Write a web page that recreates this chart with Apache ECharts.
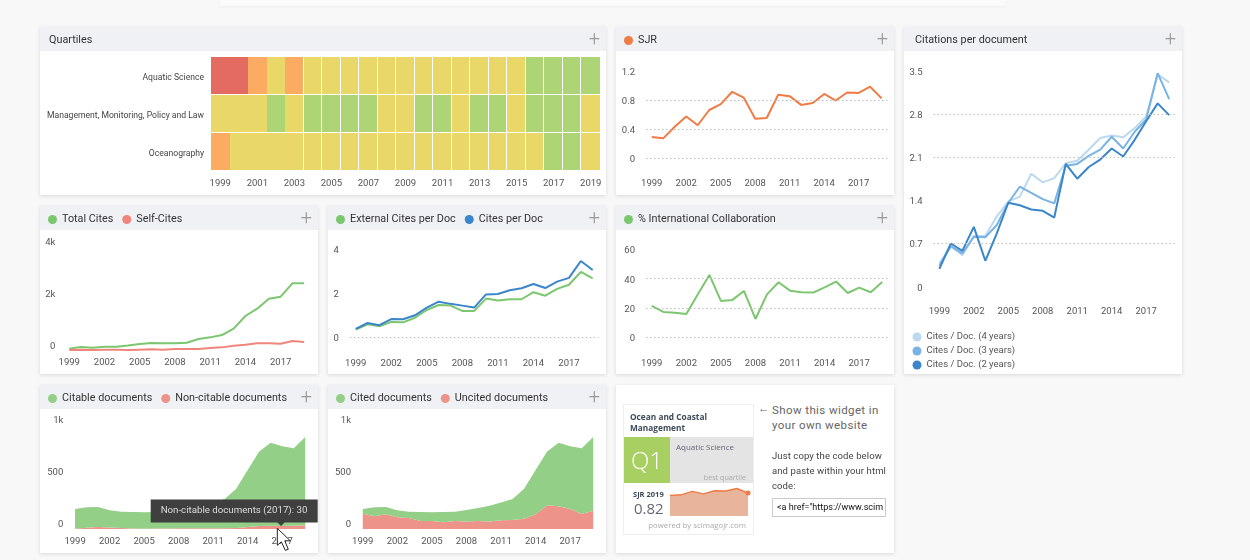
<!DOCTYPE html>
<html>
<head>
<meta charset="utf-8">
<title>Ocean and Coastal Management</title>
<script src="https://cdn.jsdelivr.net/npm/echarts@6/dist/echarts.min.js"></script>
<style>
html, body { margin: 0; padding: 0; background: #f8f8f8; width: 1250px; height: 560px; overflow: hidden; font-family: Roboto, sans-serif; }
.topbar { position: absolute; left: 220px; top: 0; width: 785px; height: 6px; background: #fbfbfb; box-shadow: 0 1px 3px rgba(0,0,0,.05); }
.card { position: absolute; background: #fff; box-shadow: 0 1px 4px rgba(0,0,0,.13); }
.card .head { position: absolute; left: 0; right: 0; top: 0; height: 24px; background: #f0f1f5; }
.card .plus { position: absolute; right: 6px; top: -1px; font-size: 20px; line-height: 24px; font-weight: 300; color: #999; z-index: 3; }
.card .chart { position: absolute; left: 0; top: 0; right: 0; bottom: 0; }
.w { position: absolute; white-space: nowrap; }
#widget { position: absolute; left: 7px; top: 19px; width: 129px; height: 129px; border: 1px solid #eee; background: #fff; font-family: "Open Sans", sans-serif; }
#spark { position: absolute; left: 0; top: 0; width: 129px; height: 129px; }
.code { left: 156px; top: 113px; width: 108px; height: 17px; border: 1px solid #ccc; background: #fff; font-size: 9px; line-height: 17px; padding-left: 4px; color: #111; overflow: hidden; }
</style>
</head>
<body>
<div class="topbar"></div>
<script>
const years = ['1999', '2000', '2001', '2002', '2003', '2004', '2005', '2006', '2007', '2008', '2009', '2010', '2011', '2012', '2013', '2014', '2015', '2016', '2017', '2018', '2019']

const subjects = ['Aquatic Science', 'Management, Monitoring, Policy and Law', 'Oceanography']
const quartAquatic = [4, 4, 3, 2, 3, 2, 2, 2, 2, 2, 2, 2, 2, 2, 2, 2, 2, 1, 1, 1, 1]
const quartManagement = [2, 2, 2, 1, 2, 1, 1, 1, 1, 2, 2, 1, 1, 2, 1, 1, 2, 1, 1, 1, 2]
const quartOcean = [3, 2, 2, 2, 2, 2, 2, 2, 2, 2, 2, 2, 2, 2, 2, 2, 2, 2, 1, 1, 2]

const sjr = [0.29, 0.27, 0.43, 0.57, 0.45, 0.66, 0.74, 0.91, 0.83, 0.54, 0.55, 0.87, 0.85, 0.73, 0.755, 0.88, 0.79, 0.9, 0.895, 0.98, 0.82]

const citesDoc4 = [0.38, 0.65, 0.51, 0.82, 0.82, 1.14, 1.38, 1.46, 1.83, 1.69, 1.76, 2.0, 2.04, 2.22, 2.41, 2.45, 2.42, 2.57, 2.76, 3.44, 3.31]
const citesDoc3 = [0.34, 0.66, 0.54, 0.81, 0.8, 1.0, 1.36, 1.62, 1.52, 1.42, 1.35, 1.96, 1.99, 2.12, 2.22, 2.43, 2.24, 2.51, 2.71, 3.46, 3.04]
const citesDoc2 = [0.29, 0.7, 0.58, 0.97, 0.42, 0.865, 1.36, 1.32, 1.25, 1.23, 1.12, 1.99, 1.75, 1.94, 2.06, 2.24, 2.11, 2.38, 2.68, 2.97, 2.78]

const totalCites = [80, 140, 115, 155, 155, 205, 258, 297, 284, 284, 310, 452, 516, 606, 852, 1342, 1626, 2013, 2090, 2606, 2606]
const selfCites = [26, 39, 26, 39, 39, 26, 39, 52, 39, 65, 65, 65, 103, 129, 194, 232, 284, 284, 271, 374, 335]

const externalPerDoc = [0.35, 0.59, 0.5, 0.7, 0.68, 0.89, 1.24, 1.47, 1.44, 1.2, 1.2, 1.76, 1.67, 1.73, 1.73, 2.05, 1.89, 2.2, 2.39, 2.97, 2.68]
const citesPerDoc = [0.38, 0.65, 0.55, 0.83, 0.82, 1.0, 1.35, 1.62, 1.52, 1.44, 1.35, 1.95, 1.97, 2.14, 2.23, 2.42, 2.24, 2.53, 2.7, 3.47, 3.06]

const intlCollab = [21.4, 17.3, 16.8, 15.9, 29.3, 42.5, 24.8, 25.5, 31.6, 12.5, 29.3, 37.5, 31.8, 30.7, 30.5, 34, 38, 30.2, 33.9, 30.7, 37.7]

const citableDocs = [189, 196, 192, 165, 157, 157, 157, 159, 161, 175, 194, 216, 249, 281, 378, 547, 714, 798, 765, 744, 849]
const nonCitableDocs = [3, 12, 20, 15, 10, 6, 3, 4, 6, 8, 8, 8, 7, 7, 10, 20, 30, 32, 30, 32, 36]
const citedDocs = [45, 86, 71, 68, 61, 86, 83, 99, 90, 112, 125, 153, 173, 201, 289, 426, 516, 612, 603, 632, 709]
const uncitedDocs = [147, 122, 141, 112, 106, 77, 77, 64, 77, 71, 77, 71, 83, 87, 99, 141, 228, 218, 192, 144, 176]

const GREEN = '#7cc66f'
const BLUE = '#3b86cb'
const ORANGE = '#ef7b45'
const SALMON = '#f0857b'
const quartColors = { 1: '#aed575', 2: '#e9d868', 3: '#fcab62', 4: '#e46b61' }

function makeCard(x, y, w, h) {
  const card = document.createElement('div')
  card.className = 'card'
  card.style.cssText = `left:${x}px;top:${y}px;width:${w}px;height:${h}px`
  card.innerHTML = '<div class="head"></div><div class="plus">+</div><div class="chart"></div>'
  document.body.appendChild(card)
  return { x, y, el: card, chart: echarts.init(card.querySelector('.chart')) }
}

// grid given in page pixels, turned into card pixels
function gridAt(card, left, right, top, bottom) {
  return { left: left - card.x, top: top - card.y, width: right - left, height: bottom - top, outerBoundsMode: 'none' }
}

function tickText(v) {
  if (v >= 1000) return v / 1000 + 'k'
  return String(Math.round(v * 10) / 10)
}

function lineSeries(name, data, color, dots) {
  return {
    type: 'line',
    name,
    data,
    symbol: 'none',
    lineStyle: { color, width: 2 },
    itemStyle: { color },
    markLine: dots && {
      silent: true,
      symbol: 'none',
      animation: false,
      label: { show: false },
      lineStyle: { color: '#bdbdbd', width: 1, type: [1.5, 2.5] },
      data: dots.map((v) => ({ yAxis: v })),
    },
  }
}

function areaSeries(name, data, color) {
  return {
    type: 'line',
    name,
    data,
    stack: 'docs',
    symbol: 'none',
    lineStyle: { width: 0 },
    itemStyle: { color },
    areaStyle: { color, opacity: 1 },
  }
}

function headLegend(names) {
  return {
    left: 8,
    top: 8,
    padding: 0,
    icon: 'circle',
    itemWidth: 9,
    itemHeight: 9,
    itemGap: 9,
    data: names,
    selectedMode: false,
    textStyle: { color: '#333', fontSize: 10.8, fontFamily: 'Roboto' },
  }
}

// labelPad: the y labels do not sit quite on their tick in the reference
function baseOption(grid, max, interval, margin, yMargin, labelPad) {
  return {
    animation: false,
    textStyle: { fontFamily: 'Roboto' },
    grid,
    xAxis: {
      type: 'category',
      data: years,
      axisLine: { show: false },
      axisTick: { show: false },
      axisLabel: { interval: 2, margin, fontSize: 9.5, color: '#555' },
    },
    yAxis: {
      type: 'value',
      min: 0,
      max,
      interval,
      splitLine: { show: false },
      axisLabel: {
        margin: yMargin,
        formatter: (v) => `{t|${tickText(v)}}`,
        rich: { t: { fontSize: 9.5, color: '#555', padding: labelPad } },
      },
    },
  }
}

const PAD_DOWN = [3, 0, 0, 0]
const PAD_UP = [0, 0, 9, 0]

// Quartiles
const qCard = makeCard(40, 27, 566, 168)
const qData = []
;[quartAquatic, quartManagement, quartOcean].forEach((row, r) => {
  row.forEach((q, i) => qData.push([i, r, q]))
})
qCard.chart.setOption({
  animation: false,
  textStyle: { fontFamily: 'Roboto' },
  title: { text: 'Quartiles', left: 9, top: 8, padding: 0, textStyle: { color: '#333', fontSize: 10.8, fontWeight: 'normal' } },
  grid: gridAt(qCard, 211, 600, 57, 171),
  xAxis: {
    type: 'category',
    data: years,
    axisLine: { show: false },
    axisTick: { show: false },
    axisLabel: { interval: 1, margin: 8, fontSize: 9.5, color: '#555' },
  },
  yAxis: {
    type: 'category',
    data: subjects,
    inverse: true,
    axisLine: { show: false },
    axisTick: { show: false },
    axisLabel: {
      margin: 7,
      formatter: (v) => `{t|${v}}`,
      rich: { t: { fontSize: 8.6, color: '#444', padding: [4, 0, 0, 0] } },
    },
  },
  series: [{
    type: 'custom',
    data: qData,
    encode: { x: 0, y: 1 },
    renderItem(params, api) {
      const c = api.coord([api.value(0), api.value(1)])
      const s = api.size([1, 1])
      const x0 = Math.round(c[0] - s[0] / 2)
      const x1 = Math.round(c[0] + s[0] / 2)
      // the years up to 2004 run together, after that every cell has its own gap
      const gap = api.value(0) >= 4 && api.value(0) < 20 ? 1 : 0
      return {
        type: 'rect',
        shape: { x: x0, y: Math.round(c[1] - s[1] / 2), width: x1 - x0 - gap, height: Math.round(s[1]) - 1 },
        style: { fill: quartColors[api.value(2)] },
      }
    },
  }],
})

// SJR
const sCard = makeCard(616, 27, 278, 168)
sCard.chart.setOption({
  ...baseOption(gridAt(sCard, 646, 887.4, 70.7, 158), 1.2, 0.4, 21, 11, PAD_DOWN),
  legend: headLegend(['SJR']),
  series: [lineSeries('SJR', sjr, ORANGE, [0, 0.4, 0.8])],
})

// Citations per document
const cCard = makeCard(904, 27, 278, 347)
cCard.chart.setOption({
  ...baseOption(gridAt(cCard, 933.6, 1174.9, 70.7, 286.7), 3.5, 0.7, 20, 11, PAD_DOWN),
  title: { text: 'Citations per document', left: 11, top: 8, padding: 0, textStyle: { color: '#333', fontSize: 10.8, fontWeight: 'normal' } },
  legend: {
    left: 8.5,
    top: 305,
    padding: 0,
    orient: 'vertical',
    icon: 'circle',
    itemWidth: 9,
    itemHeight: 9,
    itemGap: 4,
    selectedMode: false,
    textStyle: { color: '#555', fontSize: 9.5, fontFamily: 'Roboto' },
  },
  series: [
    lineSeries('Cites / Doc. (4 years)', citesDoc4, '#bcd9f0', [0.7, 2.1, 2.8]),
    lineSeries('Cites / Doc. (3 years)', citesDoc3, '#79b3e3'),
    lineSeries('Cites / Doc. (2 years)', citesDoc2, BLUE),
  ],
})

// Total Cites / Self-Cites
const tCard = makeCard(40, 206, 278, 168)
tCard.chart.setOption({
  ...baseOption(gridAt(tCard, 63.4, 310, 247.3, 350.7), 4000, 2000, 7, 8, PAD_UP),
  legend: headLegend(['Total Cites', 'Self-Cites']),
  series: [lineSeries('Total Cites', totalCites, GREEN), lineSeries('Self-Cites', selfCites, SALMON)],
})

// External Cites per Doc / Cites per Doc
const eCard = makeCard(328, 206, 278, 168)
eCard.chart.setOption({
  ...baseOption(gridAt(eCard, 349.8, 598.6, 249.3, 337.3), 4, 2, 21, 11, PAD_DOWN),
  legend: headLegend(['External Cites per Doc', 'Cites per Doc']),
  series: [lineSeries('External Cites per Doc', externalPerDoc, GREEN, [0]), lineSeries('Cites per Doc', citesPerDoc, BLUE)],
})

// % International Collaboration
const iCard = makeCard(616, 206, 278, 168)
iCard.chart.setOption({
  ...baseOption(gridAt(iCard, 646, 888, 249.3, 337.3), 60, 20, 21, 11, PAD_DOWN),
  legend: headLegend(['% International Collaboration']),
  series: [lineSeries('% International Collaboration', intlCollab, GREEN, [0, 20, 40])],
})

// Citable / Non-citable documents, with the hover tooltip from the screenshot
const dCard = makeCard(40, 385, 278, 168)
dCard.chart.setOption({
  ...baseOption(gridAt(dCard, 69.3, 311, 425, 529), 1000, 500, 8, 6, PAD_UP),
  legend: headLegend(['Citable documents', 'Non-citable documents']),
  series: [areaSeries('Non-citable documents', nonCitableDocs, '#ee9389'), areaSeries('Citable documents', citableDocs, '#93cf87')],
  graphic: [
    { type: 'rect', z: 100, shape: { x: 110.7, y: 114.5, width: 167, height: 23 }, style: { fill: '#3f3f3f' } },
    { type: 'polygon', z: 100, shape: { points: [[237, 137], [245, 137], [241, 141]] }, style: { fill: '#3f3f3f' } },
    { type: 'text', z: 101, x: 194, y: 126, style: { text: 'Non-citable documents (2017): 30', fill: '#ddd', font: '9.7px Roboto', textAlign: 'center', textVerticalAlign: 'middle' } },
    {
      type: 'polygon',
      z: 102,
      x: 237.3,
      y: 143.3,
      shape: { points: [[0, 0], [0, 17], [4, 13.5], [8, 22], [11, 21], [7.5, 12.5], [13, 12.5]] },
      style: { fill: '#fff', stroke: '#222', lineWidth: 1 },
    },
  ],
})

// Cited / Uncited documents
const uCard = makeCard(328, 385, 278, 168)
uCard.chart.setOption({
  ...baseOption(gridAt(uCard, 357, 599, 425, 529), 1000, 500, 8, 6, PAD_UP),
  legend: headLegend(['Cited documents', 'Uncited documents']),
  series: [areaSeries('Uncited documents', uncitedDocs, '#ee9389'), areaSeries('Cited documents', citedDocs, '#93cf87')],
})

// widget card
const wCard = document.createElement('div')
wCard.className = 'card'
wCard.style.cssText = 'left:616px;top:385px;width:278px;height:168px'
wCard.innerHTML = `
<div id="widget">
  <div id="spark"></div>
  <div class="w" style="left:6px;top:6px;font-size:8.3px;line-height:11px;font-weight:700;color:#3d4a57">Ocean and Coastal<br>Management</div>
  <div class="w" style="left:0;top:32px;width:129px;height:46px;background:#e4e4e4"></div>
  <div class="w" style="left:0;top:32px;width:46px;height:46px;background:#a8cf62;color:#fff;font-size:24px;line-height:46px;text-align:center;font-weight:300">Q1</div>
  <div class="w" style="left:52px;top:36px;font-size:8px;color:#667">Aquatic Science</div>
  <div class="w" style="right:7px;top:67px;font-size:7.2px;color:#aaa">best quartile</div>
  <div class="w" style="left:9px;top:84px;font-size:7.5px;font-weight:700;color:#3d4a57">SJR 2019</div>
  <div class="w" style="left:10px;top:93px;font-size:15px;color:#667">0.82</div>
  <div class="w" style="right:7px;top:115px;font-size:7.8px;color:#aaa">powered by scimagojr.com</div>
</div>
<div class="w" style="left:142px;top:16px;font-size:11.5px;line-height:15px;color:#666">&larr; </div>
<div class="w" style="left:156px;top:18px;font-size:11.5px;line-height:15px;letter-spacing:.4px;color:#666">Show this widget in<br>your own website</div>
<div class="w" style="left:156px;top:63px;font-size:9.5px;line-height:15px;letter-spacing:.1px;color:#444">Just copy the code below<br>and paste within your html<br>code:</div>
<div class="w code">&lt;a href="https://www.scim</div>`
document.body.appendChild(wCard)

const spark = echarts.init(wCard.querySelector('#spark'))
spark.setOption({
  animation: false,
  grid: { left: 46, width: 78, top: 83, height: 28, outerBoundsMode: 'none' },
  xAxis: { type: 'category', show: false, boundaryGap: false, data: years.slice(-8) },
  yAxis: { type: 'value', show: false, min: 0, max: 1 },
  series: [{
    type: 'line',
    data: sjr.slice(-8),
    symbol: 'circle',
    symbolSize: (v, p) => (p.dataIndex === 7 ? 5 : 0),
    lineStyle: { color: ORANGE, width: 1.5 },
    itemStyle: { color: ORANGE },
    areaStyle: { color: '#e8b49c', opacity: 1 },
  }],
})
</script>
</body>
</html>
